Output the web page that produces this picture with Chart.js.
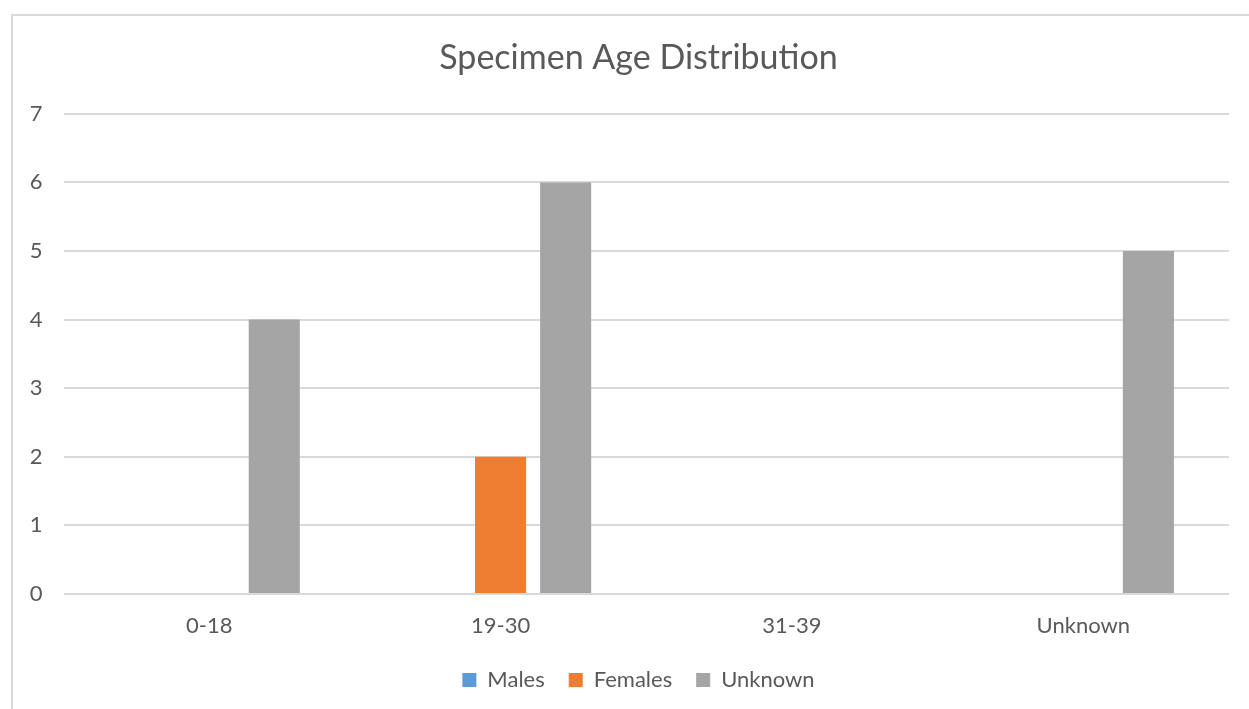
<!DOCTYPE html>
<html>
<head>
<meta charset="utf-8">
<script src="https://cdn.jsdelivr.net/npm/chart.js@4.4.1/dist/chart.umd.min.js"></script>
<style>
  html, body { margin: 0; padding: 0; background: #ffffff; overflow: hidden; }
  #frame {
    position: absolute;
    left: 11px;
    top: 14px;
    width: 1250px;
    height: 720px;
    border: 2px solid #d9d9d9;
    background: #ffffff;
  }
  #wrap { position: absolute; left: 0; top: 0; width: 1236px; height: 693px; }
</style>
</head>
<body>
<div id="frame"><div id="wrap"><canvas id="c"></canvas></div></div>
<script>
// Age groups along the x axis
const ageGroups = ['0-18', '19-30', '31-39', 'Unknown'];

// Specimen counts per sex in each age group
const males = [0, 0, 0, 0];
const females = [0, 2, 0, 0];
const unknownSex = [4, 6, 0, 5];

// Value axis range
const yMin = 0;
const yMax = 7;
const yStep = 1;

const textColor = '#595959';
const gridColor = '#d9d9d9';
const fontFamily = 'Lato, "Open Sans", sans-serif';

const leftPad = 35;

new Chart(document.getElementById('c'), {
  type: 'bar',
  data: {
    labels: ageGroups,
    datasets: [
      { label: 'Males', data: males, backgroundColor: '#5b9bd5' },
      { label: 'Females', data: females, backgroundColor: '#ed7d31' },
      { label: 'Unknown', data: unknownSex, backgroundColor: '#a5a5a5' }
    ]
  },
  options: {
    responsive: true,
    maintainAspectRatio: false,
    animation: false,
    datasets: {
      bar: { categoryPercentage: 0.67, barPercentage: 0.785 }
    },
    layout: { padding: { left: leftPad, right: 20, top: 0, bottom: 8 } },
    scales: {
      x: {
        grid: { display: false, drawTicks: false },
        border: { display: false },
        ticks: {
          color: textColor,
          font: { family: fontFamily, size: 22 },
          padding: 19,
          maxRotation: 0
        },
        afterFit: (scale) => { scale.height = 51; }
      },
      y: {
        min: yMin,
        max: yMax,
        grid: { color: gridColor, lineWidth: 2, drawTicks: false },
        border: { display: false },
        ticks: {
          stepSize: yStep,
          color: textColor,
          font: { family: fontFamily, size: 22 },
          padding: 21
        },
        afterFit: (scale) => {
          scale.width = 50.5 - leftPad;
          // the tick labels sit in the padding to the left of this narrow axis
          scale._computeLabelArea = () => undefined;
        }
      }
    },
    plugins: {
      title: {
        display: true,
        text: 'Specimen Age Distribution',
        color: textColor,
        font: { family: fontFamily, size: 34, weight: 'normal' },
        padding: { top: 22, bottom: 35 }
      },
      legend: {
        position: 'bottom',
        labels: {
          color: textColor,
          font: { family: fontFamily, size: 22 },
          boxWidth: 14,
          boxHeight: 14,
          padding: 24
        }
      },
      tooltip: { enabled: false }
    }
  }
});
</script>
</body>
</html>
